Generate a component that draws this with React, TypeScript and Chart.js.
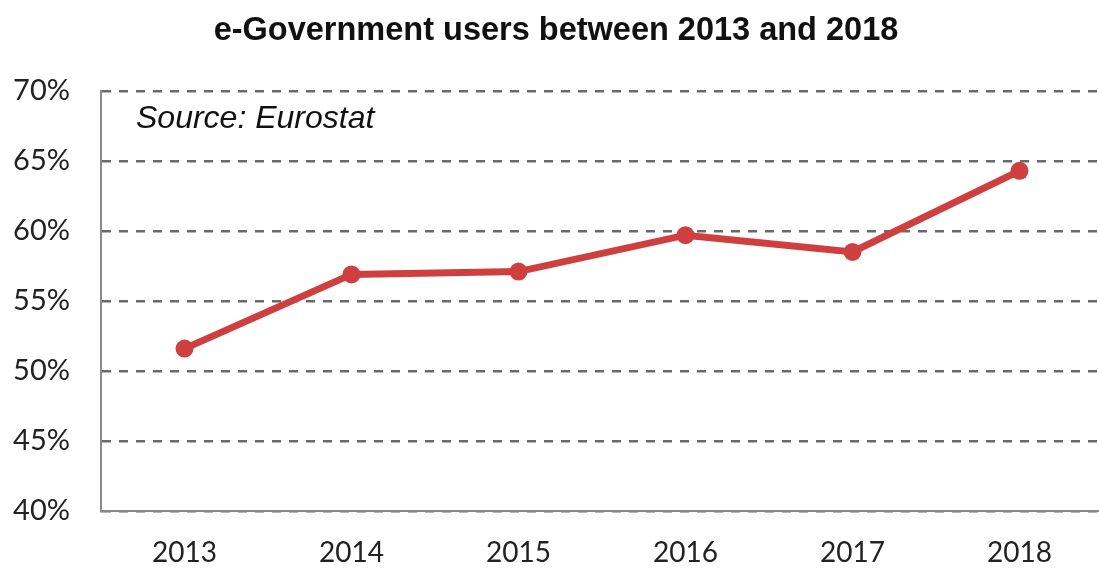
import React, { useEffect, useRef } from "react";
import { Chart, registerables } from "chart.js";

Chart.register(...registerables);

const years = ["2013", "2014", "2015", "2016", "2017", "2018"];
const usersPct = [51.6, 56.9, 57.1, 59.7, 58.5, 64.3];
const yMin = 40;
const yMax = 70;
const yStep = 5;
const titleText = "e-Government users between 2013 and 2018";
const sourceText = "Source: Eurostat";

const sourcePlugin = {
  id: "sourceNote",
  afterDraw(chart: any) {
    const { ctx, chartArea } = chart;
    ctx.save();
    ctx.font = "italic 32px 'Liberation Sans', Arial, sans-serif";
    ctx.fillStyle = "#111";
    ctx.textAlign = "left";
    ctx.textBaseline = "middle";
    ctx.fillText(sourceText, chartArea.left + 35, chartArea.top + 28);
    ctx.restore();
  },
};

export default function App() {
  const ref = useRef<HTMLCanvasElement | null>(null);
  useEffect(() => {
    if (!ref.current) return;
    const chart = new Chart(ref.current, {
      type: "line",
      data: {
        labels: years,
        datasets: [
          {
            data: usersPct,
            borderColor: "#cf3f3f",
            backgroundColor: "#cf3f3f",
            borderWidth: 7,
            pointRadius: 9,
            pointBackgroundColor: "#cf3f3f",
            pointBorderWidth: 0,
            tension: 0,
          },
        ],
      },
      options: {
        responsive: false,
        animation: false,
        layout: { padding: { left: 0, right: 0, top: 0, bottom: 0 } },
        plugins: {
          legend: { display: false },
          tooltip: { enabled: false },
          title: {
            display: true,
            text: titleText,
            color: "#111",
            font: { family: "'Liberation Sans', Arial, sans-serif", size: 32.5, weight: "bold" },
            padding: { top: 12, bottom: 40 },
          },
        },
        scales: {
          x: {
            offset: true,
            grid: { display: false },
            border: { display: true, color: "#8a8a8a", width: 2 },
            ticks: {
              color: "#222",
              font: { family: "Lato, 'Open Sans', sans-serif", size: 28 },
              padding: 17,
            },
            afterFit(scale: any) {
              scale.height = 69;
            },
          },
          y: {
            min: yMin,
            max: yMax,
            grid: { color: "#6a6a6a", lineWidth: 2.5, drawTicks: false },
            border: { display: true, color: "#8a8a8a", width: 2, dash: [9, 8] },
            ticks: {
              stepSize: yStep,
              color: "#222",
              font: { family: "Lato, 'Open Sans', sans-serif", size: 29 },
              padding: 31,
              callback: (v: any) => v + "%",
            },
            afterFit(scale: any) {
              scale.width = 101;
            },
          },
        },
      },
      plugins: [sourcePlugin],
    });
    return () => chart.destroy();
  }, []);

  return (
    <div
      style={{
        position: "absolute",
        left: 0,
        top: 0,
        width: 1099,
        height: 580,
        overflow: "hidden",
        background: "#fff",
      }}
    >
      <canvas ref={ref} width={1112} height={580} style={{ display: "block" }} />
    </div>
  );
}
